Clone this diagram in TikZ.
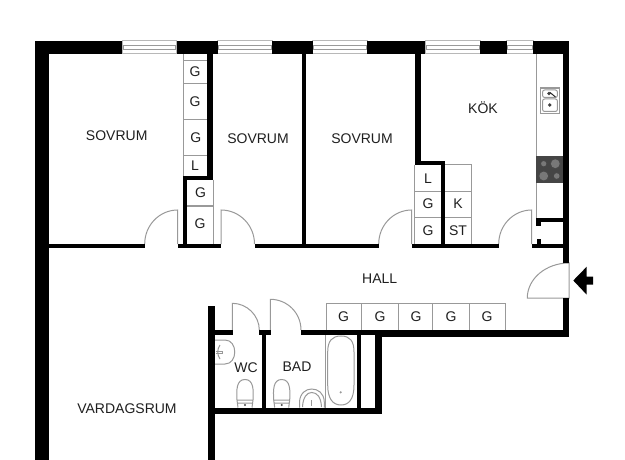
\documentclass[tikz,border=0pt]{standalone}
\usepackage{fontspec}
\setmainfont{Liberation Sans}
\definecolor{fixture}{gray}{0.6}
\definecolor{stovedark}{gray}{0.27}
\definecolor{burner}{gray}{0.47}
\tikzset{
  wall/.style={fill=black,draw=none},
  thin line/.style={draw=fixture,line width=1pt},
  door line/.style={draw=fixture,line width=1pt},
  window frame/.style={draw=fixture!70,line width=1pt,fill=white},
  window pane/.style={draw=fixture,line width=1pt,fill=white},
  room label/.style={font=\fontsize{14}{16}\selectfont,text=black!88,inner sep=0pt},
  unit label/.style={font=\fontsize{14}{16}\selectfont,text=black!88,inner sep=0pt},
}
\newcommand{\planwindow}[2]{%
  \draw[window frame] (#1,41) rectangle (#2,54);
  \draw[window pane] (#1+1,45.5) rectangle (#2-1,49.7);
}
\newcommand{\planburner}[3]{%
  \fill[black!72] (#1,#2) circle ({#3+1.3});
  \fill[burner] (#1,#2) circle (#3);
}
\newcommand{\plantoilet}[1]{%
  \draw[thin line,fill=white] (#1-8,400) .. controls (#1-8.6,390) and (#1-8.6,379.5) .. (#1,379.5)
     .. controls (#1+8.6,379.5) and (#1+8.6,390) .. (#1+8,400);
  \draw[thin line] (#1-8,400) -- (#1+8,400) (#1-8,403) -- (#1+8,403) (#1-8,400) -- (#1-7,407.5) (#1+8,400) -- (#1+7,407.5);
  \fill[black!70] (#1,405) circle (1.2);
}
\begin{document}
\begin{tikzpicture}[x=1pt,y=-1pt]
\useasboundingbox (0,0) rectangle (625,460);
\fill[white] (0,0) rectangle (625,460);

% windows
\planwindow{122}{176.5}
\planwindow{217.5}{272}
\planwindow{312.5}{367}
\planwindow{425}{480}
\planwindow{506.5}{533}

% wardrobe outlines and fixtures (under the walls)
\draw[thin line] (183,54) -- (183,176);
\draw[thin line] (183,60.7) -- (207,60.7) (183,84) -- (207,84) (183,120) -- (207,120) (183,156) -- (207,156);
\draw[thin line] (213.3,180) -- (213.3,244) (187,206) -- (213.3,206);
\draw[thin line] (414.7,165) -- (414.7,244) (415,191.3) -- (441.5,191.3) (415,217.3) -- (441.5,217.3);
\draw[thin line] (445,164.7) -- (471.7,164.7) -- (471.7,244) (445,191.3) -- (471.7,191.3) (445,217.3) -- (471.7,217.3);
\draw[thin line] (536.3,54) -- (536.3,218);
\draw[thin line] (326,334) -- (326,303.7) -- (505,303.7) -- (505,330);
\draw[thin line] (326,330) -- (505,330);
\foreach \dx in {361.7,398,432.5,469} {\draw[thin line] (\dx,303.7) -- (\dx,330);}
\draw[thin line] (325.5,334) -- (325.5,408);

% sink and stove in the kitchen
\draw[line width=1.4pt,draw=fixture] (540.7,88) rectangle (559.3,113.3);
\draw[thin line,rounded corners=2pt] (542.6,90) rectangle (557.4,97.5);
\draw[thin line,rounded corners=2pt] (542.6,99) rectangle (557.4,111.5);
\fill[black!75] (549,93.5) circle (1.9);
\fill[black!75] (549.7,105) circle (1.9);
\draw[black!85,line width=1pt] (550,92.5) -- (555.5,97);
\fill[stovedark] (536.3,156.3) rectangle (562.5,182.7);
\planburner{543.7}{163.7}{2.6}
\planburner{555.3}{163.7}{4.4}
\planburner{543.7}{176}{4.4}
\planburner{556.7}{176}{2.8}

% doors
\draw[door line] (144.7,244) .. controls (144.7,225.2) and (159.5,210) .. (177.7,210) -- (177.7,244);
\draw[door line] (254.5,244) .. controls (254.5,225.2) and (239.5,210) .. (221,210) -- (221,244);
\draw[door line] (378.7,244) .. controls (378.7,225.2) and (393.5,210) .. (411.7,210) -- (411.7,244);
\draw[door line] (498.7,244) .. controls (498.7,225.2) and (513.5,210) .. (531.7,210) -- (531.7,244);
\draw[door line] (569,263) .. controls (546,263) and (527.3,278.7) .. (527.3,298) -- (569,298) -- cycle;
\draw[door line] (259.3,330) .. controls (259.3,315.5) and (247,303.3) .. (232.3,303.3) -- (232.3,330);
\draw[door line] (301,330) .. controls (301,313) and (287.3,299.3) .. (270.3,299.3) -- (270.3,330);

% walls
\fill[wall] (35,41) rectangle (122,54);
\fill[wall] (176.5,41) rectangle (217.5,54);
\fill[wall] (272,41) rectangle (312.5,54);
\fill[wall] (367,41) rectangle (425,54);
\fill[wall] (480,41) rectangle (506.5,54);
\fill[wall] (533,41) rectangle (569,54);
\fill[wall] (35,41) rectangle (48.7,460);
\fill[wall] (562.7,41) rectangle (569.2,263);
\fill[wall] (562.7,298) rectangle (569.2,336.7);
\fill[wall] (48,243.7) rectangle (144.7,248);
\fill[wall] (178,243.7) rectangle (221,248);
\fill[wall] (254.5,243.7) rectangle (378.7,248);
\fill[wall] (412,243.7) rectangle (498.7,248);
\fill[wall] (531.5,243.7) rectangle (563,248);
\fill[wall] (206.7,54) rectangle (213.3,180);
\fill[wall] (183,175.7) rectangle (213.3,180);
\fill[wall] (183,175.7) rectangle (187.3,244);
\fill[wall] (301.7,54) rectangle (306.3,244);
\fill[wall] (415,54) rectangle (421.3,165);
\fill[wall] (415,160.7) rectangle (445.3,165);
\fill[wall] (441.3,160.7) rectangle (445.3,244);
\fill[wall] (536.3,217.5) rectangle (563,222);
\fill[wall] (536.3,217.5) rectangle (541,226);
\fill[wall] (536.5,239.3) rectangle (541.3,244);
% lower block
\fill[wall] (208.3,305.7) rectangle (215,460);
\fill[wall] (215,330) rectangle (232.7,334.7);
\fill[wall] (259.3,330) rectangle (270.7,334.7);
\fill[wall] (301,330) rectangle (382,334.7);
\fill[wall] (381,330) rectangle (569,336.7);
\fill[wall] (261.7,330) rectangle (265.7,410);
\fill[wall] (208.3,407.7) rectangle (382.3,414);
\fill[wall] (356.7,330) rectangle (361,410);
\fill[wall] (375,330) rectangle (382.3,414);

% bath
\draw[thin line] (327.7,352)
   .. controls (327.7,341) and (332,336) .. (341,336)
   .. controls (350,336) and (354,341) .. (354,352)
   -- (354,385)
   .. controls (354,399) and (349,405) .. (341,405)
   .. controls (333,405) and (327.7,399) .. (327.7,385) -- cycle;
\fill[fixture] (340.7,392.3) circle (1.2);

% WC sink
\draw[thin line] (215,340) -- (225,340)
   .. controls (238,340) and (238,364) .. (225,364) -- (215,364);
\draw[thin line] (220,345) .. controls (217,349) and (217,355) .. (220,359);
\draw[thin line] (216,351) -- (222,351) -- (222,353.5) -- (216,353.5);

% toilets
\plantoilet{245}
\plantoilet{281.7}

% BAD sink
\draw[thin line] (299.5,407.5) -- (299.5,402)
   .. controls (300,393) and (306,389) .. (311.7,389)
   .. controls (318,389) and (324,393) .. (324.3,402) -- (324.3,407.5);
\draw[thin line] (302.5,407) .. controls (303,397) and (307,392.5) .. (311.7,392.5)
   .. controls (317,392.5) and (321,397) .. (321.5,407);
\draw[thin line] (311.7,400) -- (311.7,406);

% entrance arrow
\fill[black] (573.3,280.5) -- (586.7,266.7) -- (586.7,276.7) -- (593,276.7) -- (593,284.7) -- (586.7,284.7) -- (586.7,294.7) -- cycle;

% labels
\node[room label] (sovrumA) at (116.7,135.5) {SOVRUM};
\node[room label] (sovrumB) at (258,138.7) {SOVRUM};
\node[room label] (sovrumC) at (362,138.7) {SOVRUM};
\node[room label] (kok) at (483,107.5) {KÖK};
\node[room label] (hall) at (379.7,278.7) {HALL};
\node[room label] (wc) at (246,367.5) {WC};
\node[room label] (bad) at (297,367) {BAD};
\node[room label] (vardagsrum) at (127,408.5) {VARDAGSRUM};

\node[unit label] (ga) at (195,72) {G};
\node[unit label] (gb) at (195,102) {G};
\node[unit label] (gc) at (195.7,138) {G};
\node[unit label] (la) at (195,166) {L};
\node[unit label] (gd) at (200.5,193) {G};
\node[unit label] (ge) at (200,224) {G};
\node[unit label] (lb) at (428,179) {L};
\node[unit label] (gf) at (428,204) {G};
\node[unit label] (gg) at (428,231) {G};
\node[unit label] (k) at (458,204) {K};
\node[unit label] (st) at (458,231) {ST};
\node[unit label] (gh) at (343.5,317) {G};
\node[unit label] (gi) at (380,317) {G};
\node[unit label] (gj) at (416,317) {G};
\node[unit label] (gk) at (451,317) {G};
\node[unit label] (gl) at (487,317) {G};
\end{tikzpicture}
\end{document}
